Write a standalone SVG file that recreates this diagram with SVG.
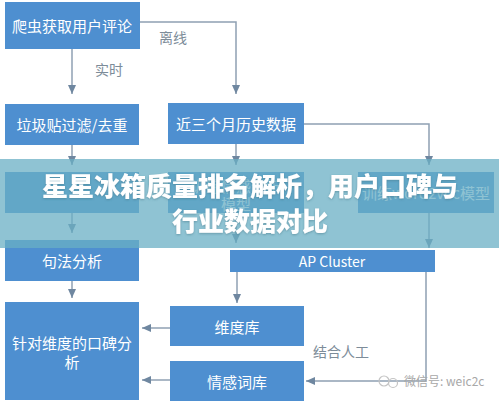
<svg xmlns="http://www.w3.org/2000/svg" width="499" height="408" viewBox="0 0 499 408">
<defs>
<marker id="ah" markerWidth="10" markerHeight="10" refX="9" refY="5" orient="auto" markerUnits="userSpaceOnUse">
<path d="M0,1 L9,5 L0,9 Z" fill="#6f87a0"/>
</marker>
<filter id="sh" x="-5%" y="-20%" width="110%" height="140%">
<feDropShadow dx="0" dy="1" stdDeviation="1" flood-color="#3a6f80" flood-opacity="0.5"/>
</filter>
<style>
.box{fill:#4e8fd0;}
.bt{font-family:"Noto Sans CJK SC","Noto Sans",sans-serif;font-size:15px;fill:#ffffff;text-anchor:middle;dominant-baseline:central;}
.ln{fill:none;stroke:#8fa0b3;stroke-width:1.5;}
.lbl{font-family:"Noto Sans CJK SC","Noto Sans",sans-serif;font-size:14px;fill:#7d8c99;}
.title{font-family:"Noto Sans CJK SC","Noto Sans",sans-serif;font-size:26px;font-weight:900;fill:#ffffff;text-anchor:middle;}
</style>
</defs>
<rect width="499" height="408" fill="#ffffff"/>
<g id="connectors">
<path class="ln" d="M72,49 V94" marker-end="url(#ah)"/>
<path class="ln" d="M140,22 H236 V94" marker-end="url(#ah)"/>
<path class="ln" d="M72,145 V165" marker-end="url(#ah)"/>
<path class="ln" d="M236,144 V165" marker-end="url(#ah)"/>
<path class="ln" d="M304,124 H429 V165" marker-end="url(#ah)"/>
<path class="ln" d="M72,213 V233" marker-end="url(#ah)"/>
<path class="ln" d="M236,213 V243" marker-end="url(#ah)"/>
<path class="ln" d="M429,213 V248" marker-end="url(#ah)"/>
<path class="ln" d="M72,281 V298" marker-end="url(#ah)"/>
<path class="ln" d="M237,272 V303" marker-end="url(#ah)"/>
<path class="ln" d="M426,272 V381 H306" marker-end="url(#ah)"/>
<path class="ln" d="M170,328 H142" marker-end="url(#ah)"/>
<path class="ln" d="M170,380 H142" marker-end="url(#ah)"/>
<text class="lbl" x="95" y="75">实时</text>
<text class="lbl" x="159" y="43">离线</text>
<text class="lbl" x="313" y="357">结合人工</text>
</g>
<g id="n1"><rect class="box" x="5" y="2" width="135" height="47"/><text class="bt" x="72" y="25">爬虫获取用户评论</text></g>
<g id="n2"><rect class="box" x="5" y="104" width="134" height="41"/><text class="bt" x="72" y="124">垃圾贴过滤/去重</text></g>
<g id="n3"><rect class="box" x="168" y="103" width="136" height="41"/><text class="bt" x="236" y="123">近三个月历史数据</text></g>
<g id="n4"><rect class="box" x="5" y="172" width="134" height="41"/></g>
<g id="n5"><rect class="box" x="168" y="172" width="136" height="41"/><text class="bt" x="236" y="185">训练情感分析</text><text class="bt" x="236" y="203">模型</text></g>
<g id="n6"><rect class="box" x="358" y="172" width="136" height="41"/><text class="bt" x="426" y="192">训练word2vec模型</text></g>
<g id="n7"><rect class="box" x="5" y="240" width="134" height="41"/><text class="bt" x="72" y="260">句法分析</text></g>
<g id="n8"><rect class="box" x="230" y="250" width="205" height="22"/><text class="bt" x="332" y="261" style="font-size:14px">AP Cluster</text></g>
<g id="n9"><rect class="box" x="170" y="306" width="134" height="40"/><text class="bt" x="237" y="326">维度库</text></g>
<g id="n10"><rect class="box" x="170" y="361" width="134" height="40"/><text class="bt" x="237" y="381">情感词库</text></g>
<g id="n11"><rect class="box" x="5" y="302" width="134" height="98"/><text class="bt" x="72" y="342">针对维度的口碑分</text><text class="bt" x="72" y="361">析</text></g>
<g id="watermark">
<circle cx="384" cy="381" r="5" fill="none" stroke="#c4c4c4" stroke-width="1.2"/>
<circle cx="393" cy="383" r="4.5" fill="none" stroke="#c4c4c4" stroke-width="1.2"/>
<text x="404" y="386" style="font-family:'Noto Sans CJK SC',sans-serif;font-size:12px;fill:#a8a8a8">微信号: weic2c</text>
</g>
<g id="banner">
<rect x="0" y="159" width="499" height="89" fill="#6aafc4" fill-opacity="0.75"/>
<g filter="url(#sh)">
<text class="title" x="250" y="196">星星冰箱质量排名解析，用户口碑与</text>
<text class="title" x="250" y="231">行业数据对比</text>
</g>
</g>
</svg>
